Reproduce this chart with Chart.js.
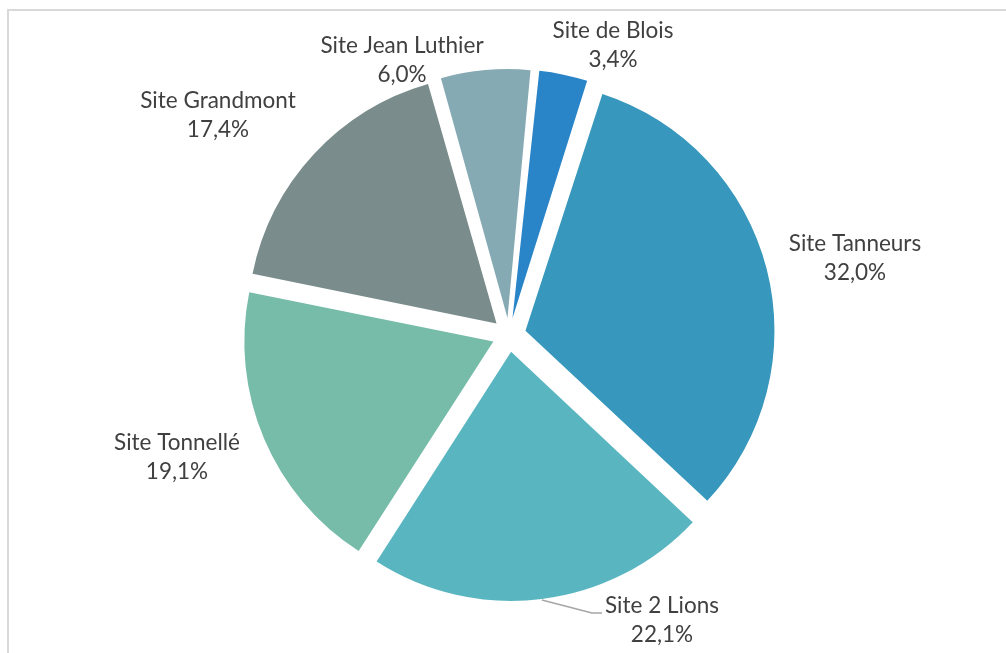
<!DOCTYPE html>
<html>
<head>
<meta charset="utf-8">
<script src="https://cdn.jsdelivr.net/npm/chart.js@4.4.0/dist/chart.umd.min.js"></script>
<style>
  html, body { margin: 0; padding: 0; background: #fff; overflow: hidden; }
  #frame { position: absolute; left: 7px; top: 9px; width: 999px; height: 644px;
           border-left: 2px solid #d9d9d9; border-top: 2px solid #d9d9d9; box-sizing: border-box; }
  #wrap { position: absolute; left: 0; top: 0; width: 1006px; height: 653px; }
</style>
</head>
<body>
<div id="frame"></div>
<div id="wrap"><canvas id="pieChart"></canvas></div>
<script>
const sites = ['Site de Blois', 'Site Tanneurs', 'Site 2 Lions', 'Site Tonnellé', 'Site Grandmont', 'Site Jean Luthier'];
const shares = [3.4, 32.0, 22.1, 19.1, 17.4, 6.0];
const sliceColors = ['#2a84c8', '#3797bc', '#59b5c0', '#76bca8', '#7a8c8c', '#85aab4'];

// label centres, relative to the pie centre
const labelOffsets = [[104, -290], [346, -77], [153, 285], [-332, 122], [-291, -220], [-107, -275]];
const PIE_RADIUS = 249;
const EXPLODE = 68; // chart.js moves each slice by offset / 4

// chart.js grows small exploded slices a bit; keep every slice the same radius
const radiusFix = {
  id: 'radiusFix',
  beforeDatasetsDraw(chart) {
    chart.getDatasetMeta(0).data.forEach(arc => {
      const off = (arc.options.offset || 0) / 4;
      const fix = 1 - Math.sin(Math.min(Math.PI, arc.circumference));
      arc.outerRadius = PIE_RADIUS - off * fix;
    });
  }
};

const outsideLabels = {
  id: 'outsideLabels',
  afterDatasetsDraw(chart) {
    const ctx = chart.ctx;
    const arcs = chart.getDatasetMeta(0).data;
    const cx = arcs[0].x, cy = arcs[0].y;

    // leader line for Site 2 Lions
    const a = arcs[2];
    const mid = (a.startAngle + a.endAngle) / 2;
    const shift = EXPLODE / 4;
    const sx = cx + Math.cos(mid) * (shift + PIE_RADIUS + 1);
    const sy = cy + Math.sin(mid) * (shift + PIE_RADIUS + 1);
    const lx = cx + labelOffsets[2][0] - 60;
    const ly = cy + labelOffsets[2][1] - 7;
    ctx.save();
    ctx.strokeStyle = '#a6a6a6';
    ctx.lineWidth = 1.5;
    ctx.beginPath();
    ctx.moveTo(sx, sy);
    ctx.lineTo(lx - 10, ly);
    ctx.lineTo(lx, ly);
    ctx.stroke();

    ctx.fillStyle = '#404040';
    ctx.font = '22.5px Lato';
    ctx.textAlign = 'center';
    ctx.textBaseline = 'middle';
    sites.forEach((name, i) => {
      const x = cx + labelOffsets[i][0];
      const y = cy + labelOffsets[i][1];
      ctx.fillText(name, x, y - 14);
      ctx.fillText(shares[i].toFixed(1).replace('.', ',') + '%', x, y + 15);
    });
    ctx.restore();
  }
};

new Chart(document.getElementById('pieChart'), {
  type: 'pie',
  data: {
    labels: sites,
    datasets: [{
      data: shares,
      backgroundColor: sliceColors,
      borderWidth: 0,
      offset: EXPLODE,
      radius: PIE_RADIUS
    }]
  },
  options: {
    responsive: true,
    maintainAspectRatio: false,
    animation: false,
    rotation: 5.7,
    layout: { padding: { left: 12, right: 0, top: 17, bottom: 0 } },
    plugins: {
      legend: { display: false },
      tooltip: { enabled: false }
    }
  },
  plugins: [radiusFix, outsideLabels]
});
</script>
</body>
</html>
